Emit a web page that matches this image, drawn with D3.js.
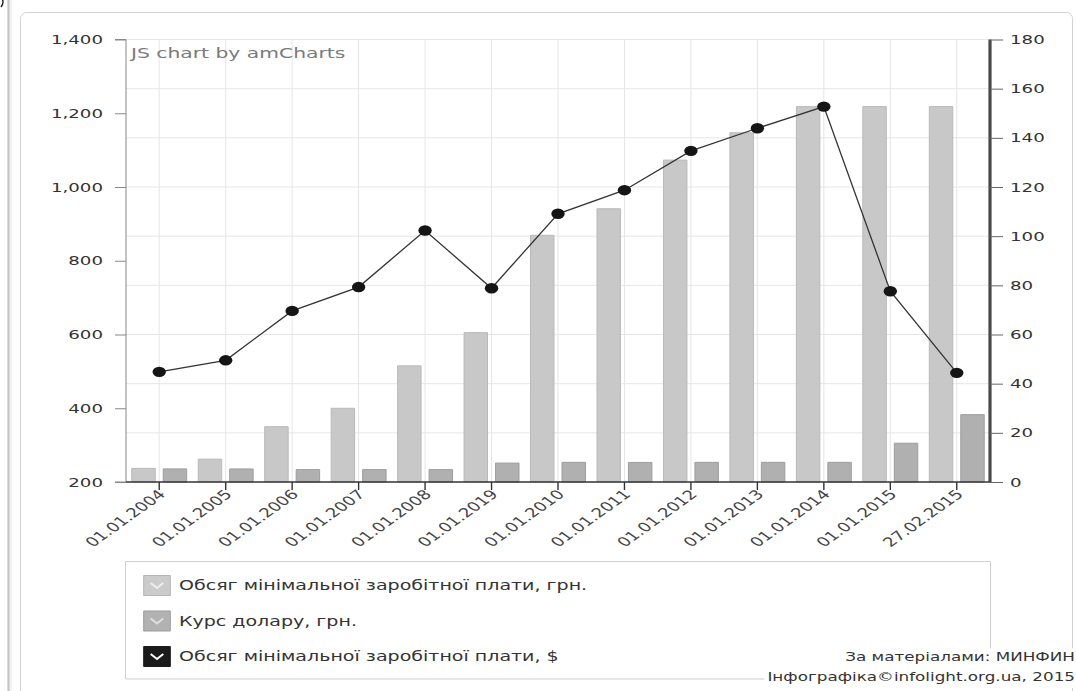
<!DOCTYPE html>
<html>
<head>
<meta charset="utf-8">
<script src="https://cdnjs.cloudflare.com/ajax/libs/d3/7.8.5/d3.min.js"></script>
<style>
  html, body { margin: 0; padding: 0; background: #fff; }
  svg { display: block; }
  text { font-family: "DejaVu Sans", Verdana, sans-serif; }
  .nss { vector-effect: non-scaling-stroke; }
</style>
</head>
<body>
<svg id="chart" width="1076" height="691"></svg>
<script>
// ---- data ----
const categories = ["01.01.2004", "01.01.2005", "01.01.2006", "01.01.2007", "01.01.2008", "01.01.2019",
  "01.01.2010", "01.01.2011", "01.01.2012", "01.01.2013", "01.01.2014", "01.01.2015", "27.02.2015"];
const wageUAH = [237, 262, 350, 400, 515, 605, 869, 941, 1073, 1147, 1218, 1218, 1218];
const usdRate = [5.33, 5.31, 5.05, 5.05, 5.05, 7.7, 7.99, 7.96, 7.99, 7.99, 7.99, 15.77, 27.4];
const wageUSD = [44.8, 49.5, 69.6, 79.3, 102.3, 78.8, 109.1, 118.7, 134.7, 143.9, 152.7, 77.6, 44.4];
const leftTicks = [200, 400, 600, 800, 1000, 1200, 1400];
const rightTicks = [0, 20, 40, 60, 80, 100, 120, 140, 160, 180];
const legendLabels = ["Обсяг мінімальної заробітної плати, грн.", "Курс долару, грн.", "Обсяг мінімальної заробітної плати, $"];
const sourceLines = ["За матеріалами: МИНФИН", "Інфографіка©infolight.org.ua, 2015"];

// ---- layout: the whole drawing is laid out narrow and widened horizontally ----
const KX = 1.4;
const X = px => px / KX;          // page pixel -> inner unit (horizontal)
const plot = { left: X(126), right: X(990), top: 39.5, bottom: 482 };

const svg = d3.select("#chart");
const root = svg.append("g").attr("transform", `scale(${KX},1)`);

// page edge decorations
root.append("line").attr("class", "nss").attr("x1", X(8.5)).attr("x2", X(8.5)).attr("y1", 0).attr("y2", 691)
  .attr("stroke", "#c2c2c2").attr("stroke-width", 2.2);
root.append("line").attr("class", "nss").attr("x1", X(11)).attr("x2", X(11)).attr("y1", 0).attr("y2", 691)
  .attr("stroke", "#e6e6e6").attr("stroke-width", 1);
root.append("path").attr("class", "nss").attr("d", `M${X(1)},-3 Q${X(5)},2 ${X(1)},7`)
  .attr("fill", "none").attr("stroke", "#222").attr("stroke-width", 1.4);

// chart frame
root.append("rect").attr("class", "nss")
  .attr("x", X(20.5)).attr("y", 12.5).attr("width", X(1072.5) - X(20.5)).attr("height", 720)
  .attr("rx", X(6)).attr("ry", 6)
  .attr("fill", "#fff").attr("stroke", "#d2d2d2").attr("stroke-width", 1);

// ---- scales ----
const x0 = d3.scaleBand().domain(categories).range([plot.left, plot.right]).padding(0);
const x1 = d3.scaleBand().domain(["uah", "rate"]).range([0, x0.bandwidth()])
  .paddingInner(0.254).paddingOuter(0.183);
const yL = d3.scaleLinear().domain([200, 1400]).range([plot.bottom, plot.top]);
const yR = d3.scaleLinear().domain([0, 180]).range([plot.bottom, plot.top]);
const cx = c => x0(c) + x0.bandwidth() / 2;

// ---- grid ----
const grid = root.append("g");
grid.selectAll("line.h").data(rightTicks.slice(1)).join("line").attr("class", "nss")
  .attr("x1", plot.left).attr("x2", plot.right)
  .attr("y1", d => yR(d)).attr("y2", d => yR(d))
  .attr("stroke", "#e6e6e6").attr("stroke-width", 1);
grid.selectAll("line.v").data(categories).join("line").attr("class", "nss")
  .attr("x1", d => cx(d)).attr("x2", d => cx(d))
  .attr("y1", plot.top).attr("y2", plot.bottom)
  .attr("stroke", "#e6e6e6").attr("stroke-width", 1);

// ---- columns ----
const bars = root.append("g");
bars.selectAll("rect.uah").data(categories).join("rect").attr("class", "nss")
  .attr("x", (c) => x0(c) + x1("uah"))
  .attr("width", x1.bandwidth())
  .attr("y", (c, i) => yL(wageUAH[i]))
  .attr("height", (c, i) => yL(200) - yL(wageUAH[i]))
  .attr("fill", "#c8c8c8").attr("stroke", "#b9b9b9").attr("stroke-width", 1);
bars.selectAll("rect.rate").data(categories).join("rect").attr("class", "nss")
  .attr("x", (c) => x0(c) + x1("rate"))
  .attr("width", x1.bandwidth())
  .attr("y", (c, i) => yR(usdRate[i]))
  .attr("height", (c, i) => yR(0) - yR(usdRate[i]))
  .attr("fill", "#b0b0b0").attr("stroke", "#9e9e9e").attr("stroke-width", 1);

// ---- USD line ----
const line = d3.line().x((d, i) => cx(categories[i])).y(d => yR(d));
root.append("path").attr("class", "nss").datum(wageUSD).attr("d", line)
  .attr("fill", "none").attr("stroke", "#333").attr("stroke-width", 1.3);
root.append("g").selectAll("ellipse").data(wageUSD).join("ellipse")
  .attr("cx", (d, i) => cx(categories[i])).attr("cy", d => yR(d))
  .attr("rx", X(6.7)).attr("ry", 5.2).attr("fill", "#151515");

// ---- axes ----
const axL = root.append("g").attr("transform", `translate(${plot.left},0)`)
  .call(d3.axisLeft(yL).tickValues(leftTicks).tickFormat(d3.format(",")).tickSize(X(11)).tickPadding(X(12)));
const axR = root.append("g").attr("transform", `translate(${plot.right},0)`)
  .call(d3.axisRight(yR).tickValues(rightTicks).tickSize(X(13)).tickPadding(X(7)));
const axB = root.append("g").attr("transform", `translate(0,${plot.bottom})`)
  .call(d3.axisBottom(x0).tickSize(8).tickPadding(4));

[axL, axR, axB].forEach(a => {
  a.select(".domain").attr("class", "domain nss");
  a.selectAll(".tick line").attr("class", "nss");
  a.selectAll("text").attr("font-family", "'DejaVu Sans', Verdana, sans-serif").attr("font-size", 13).attr("fill", "#333");
});
axL.select(".domain").attr("d", `M-${X(11)},${plot.bottom}H0V${plot.top}H-${X(11)}`).attr("stroke", "#888");
axL.selectAll(".tick line").attr("stroke", "#888");
axR.select(".domain").attr("d", `M0,${plot.bottom}V${plot.top}`).attr("stroke", "#4a4a4a").attr("stroke-width", 3.2);
axR.selectAll(".tick line").attr("stroke", "#666");
axB.select(".domain").attr("d", `M${plot.left},0H${plot.right}`).attr("stroke", "#333").attr("stroke-width", 1.6);
axB.selectAll(".tick line").attr("stroke", "#333").attr("stroke-width", 1.4);
axB.selectAll(".tick text")
  .attr("text-anchor", "end").attr("dy", "0.35em").attr("fill", "#444")
  .attr("transform", "translate(2,10) rotate(-45)")
  .attr("x", 0).attr("y", 0);

// chart credit
root.append("text").attr("x", X(131)).attr("y", 58.5).attr("font-size", 14.5).attr("fill", "#7a7a7a")
  .text("JS chart by amCharts");

// ---- legend ----
const lg = root.append("g");
lg.append("rect").attr("class", "nss")
  .attr("x", X(125.5)).attr("y", 561.5).attr("width", X(990.5) - X(125.5)).attr("height", 117.5)
  .attr("fill", "#fff").attr("stroke", "#cfcfcf");
const swatch = [
  { fill: "#cbcbcb", stroke: "#b5b5b5", check: "#eeeeee" },
  { fill: "#b2b2b2", stroke: "#9b9b9b", check: "#dedede" },
  { fill: "#1b1b1b", stroke: "#1b1b1b", check: "#ffffff" }
];
const rowY = [585.5, 621, 656.5];
legendLabels.forEach((label, i) => {
  const g = lg.append("g").attr("transform", `translate(${X(143)},${rowY[i] - 10.5})`);
  g.append("rect").attr("class", "nss").attr("x", 0.5).attr("y", 0.5).attr("width", 20 - 1).attr("height", 20)
    .attr("fill", swatch[i].fill).attr("stroke", swatch[i].stroke);
  g.append("path").attr("class", "nss").attr("d", "M5.5,8 L10,13 L14.5,8")
    .attr("fill", "none").attr("stroke", swatch[i].check).attr("stroke-width", 2);
  lg.append("text").attr("x", X(179)).attr("y", rowY[i] + 5).attr("font-size", 13.6).attr("fill", "#333")
    .text(label);
});

// ---- source note ----
const src = root.append("g");
const srcY = [661.5, 681];
sourceLines.forEach((s, i) => {
  const t = src.append("text").attr("x", X(1075)).attr("y", srcY[i]).attr("text-anchor", "end")
    .attr("font-size", 12).attr("fill", "#333").text(s);
  const b = t.node().getBBox();
  src.insert("rect", "text").attr("x", b.x - X(3)).attr("y", srcY[i] - 13).attr("width", b.width + X(6)).attr("height", 20)
    .attr("fill", "#fff");
});
</script>
</body>
</html>
